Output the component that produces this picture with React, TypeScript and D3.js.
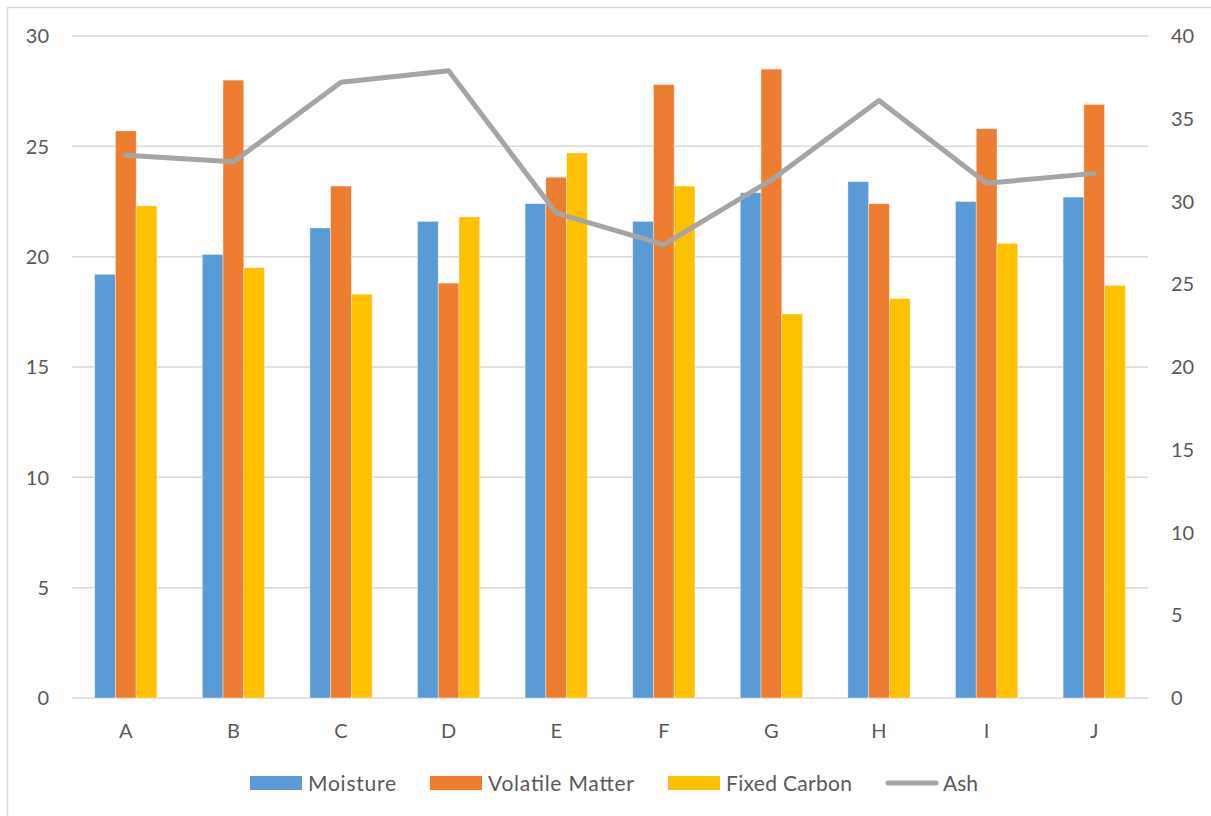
import React from "react";
import * as d3 from "d3";

const categories = ["A", "B", "C", "D", "E", "F", "G", "H", "I", "J"];
const moisture = [19.2, 20.1, 21.3, 21.6, 22.4, 21.6, 22.9, 23.4, 22.5, 22.7];
const volatileMatter = [25.7, 28.0, 23.2, 18.8, 23.6, 27.8, 28.5, 22.4, 25.8, 26.9];
const fixedCarbon = [22.3, 19.5, 18.3, 21.8, 24.7, 23.2, 17.4, 18.1, 20.6, 18.7];
const ash = [32.8, 32.4, 37.2, 37.9, 29.3, 27.4, 31.3, 36.1, 31.1, 31.7];
const leftTicks = [0, 5, 10, 15, 20, 25, 30];
const rightTicks = [0, 5, 10, 15, 20, 25, 30, 35, 40];

const barSeries = [
  { name: "Moisture", values: moisture, color: "#5B9BD5" },
  { name: "Volatile Matter", values: volatileMatter, color: "#ED7D31" },
  { name: "Fixed Carbon", values: fixedCarbon, color: "#FFC000" },
];

const W = 1211;
const H = 816;
const plot = { left: 72, right: 1148, top: 36, bottom: 698 };
const font = "Lato, 'Open Sans', sans-serif";
const textColor = "#595959";

export default function App() {
  const x = d3
    .scaleBand<string>()
    .domain(categories)
    .range([plot.left, plot.right])
    .padding(0);
  const yL = d3.scaleLinear().domain([0, 30]).range([plot.bottom, plot.top]);
  const yR = d3.scaleLinear().domain([0, 40]).range([plot.bottom, plot.top]);
  const band = x.bandwidth();
  const barW = band / 5.19;
  const cx = (c: string) => (x(c) as number) + band / 2;

  const line = d3
    .line<number>()
    .x((_, i) => cx(categories[i]))
    .y((d) => yR(d));

  const legend = [
    { name: "Moisture", color: "#5B9BD5", sx: 250, tx: 308, len: 88, type: "bar" },
    { name: "Volatile Matter", color: "#ED7D31", sx: 430, tx: 488, len: 146, type: "bar" },
    { name: "Fixed Carbon", color: "#FFC000", sx: 668, tx: 726, len: 126, type: "bar" },
    { name: "Ash", color: "#A5A5A5", sx: 886, tx: 943, len: 35, type: "line" },
  ];
  const legendY = 783;

  return (
    <svg
      width={W}
      height={H}
      style={{ position: "absolute", left: 0, top: 0, background: "#fff" }}
      fontFamily={font}
    >
      <rect x={0} y={0} width={W} height={H} fill="#fff" />
      <rect
        x={7.5}
        y={7.5}
        width={W + 20}
        height={H + 20}
        fill="none"
        stroke="#D9D9D9"
        strokeWidth={1.5}
      />
      {leftTicks.map((t) => (
        <line
          key={"g" + t}
          x1={plot.left}
          x2={plot.right}
          y1={yL(t)}
          y2={yL(t)}
          stroke="#D9D9D9"
          strokeWidth={1.5}
        />
      ))}
      {leftTicks.map((t) => (
        <text
          key={"l" + t}
          x={49}
          y={yL(t)}
          dy="0.36em"
          textAnchor="end"
          fontSize={20}
          fill={textColor}
        >
          {t}
        </text>
      ))}
      {rightTicks.map((t) => (
        <text
          key={"r" + t}
          x={1171}
          y={yR(t)}
          dy="0.36em"
          textAnchor="start"
          fontSize={20}
          fill={textColor}
        >
          {t}
        </text>
      ))}
      {categories.map((c) => (
        <text
          key={"c" + c}
          x={cx(c)}
          y={731}
          dy="0.36em"
          textAnchor="middle"
          fontSize={20}
          fill={textColor}
        >
          {c}
        </text>
      ))}
      {barSeries.map((s, si) =>
        s.values.map((v, i) => {
          const c = categories[i];
          const bx = cx(c) - 1.5 * barW + si * barW;
          return (
            <rect
              key={s.name + c}
              x={bx}
              y={yL(v)}
              width={barW}
              height={yL(0) - yL(v)}
              fill={s.color}
              stroke="#ffffff"
              strokeOpacity={0.5}
              strokeWidth={0.75}
            />
          );
        })
      )}
      <path
        d={line(ash) as string}
        fill="none"
        stroke="#A5A5A5"
        strokeWidth={5}
        strokeLinecap="round"
        strokeLinejoin="round"
      />
      {legend.map((l) => (
        <g key={l.name}>
          {l.type === "bar" ? (
            <rect x={l.sx} y={legendY - 7} width={52} height={14} fill={l.color} />
          ) : (
            <line
              x1={l.sx + 2}
              x2={l.sx + 50}
              y1={legendY}
              y2={legendY}
              stroke={l.color}
              strokeWidth={5}
              strokeLinecap="round"
            />
          )}
          <text
            x={l.tx}
            y={legendY}
            dy="0.36em"
            fontSize={21}
            textLength={l.len}
            lengthAdjust="spacing"
            fill={textColor}
          >
            {l.name}
          </text>
        </g>
      ))}
    </svg>
  );
}
